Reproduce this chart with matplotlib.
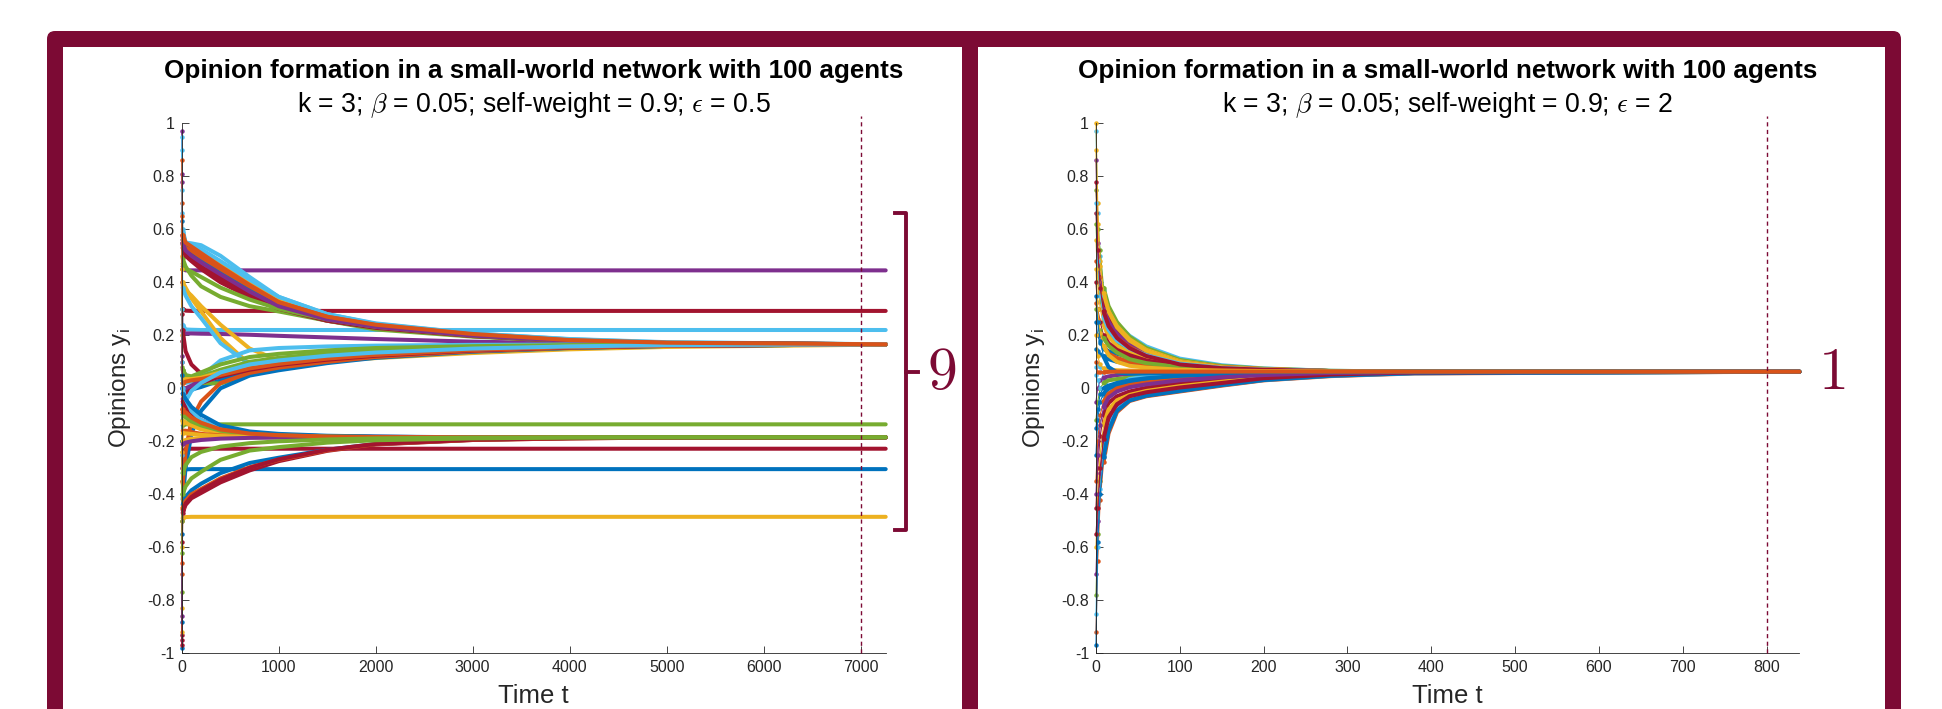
import matplotlib
matplotlib.use("Agg")
import matplotlib.pyplot as plt
from matplotlib.patches import FancyBboxPatch, Rectangle
from matplotlib.transforms import blended_transform_factory

plt.rcParams['font.family'] = ['Liberation Sans', 'DejaVu Sans']
plt.rcParams['mathtext.fontset'] = 'cm'
plt.rcParams['axes.unicode_minus'] = False

MAROON = '#7c0a34'
AXCOL = '#262626'
MATLAB = ['#0072BD', '#D95319', '#EDB120', '#7E2F8E', '#77AC30', '#4DBEEE', '#A2142F']
B, O, Y, P, G, L, R = range(7)

# ---------------- left panel (eps = 0.5) ----------------
t_left = [0, 10, 40, 100, 200, 400, 700, 1000, 1500, 2000, 3000, 4000, 5000, 7258]

# agents that settle almost at once
left_fixed_colors = [P, R, L, G, R, B, Y]
left_fixed = [
    [0.97, 0.46, 0.445, 0.445, 0.445, 0.445, 0.445, 0.445, 0.445, 0.445, 0.445, 0.445, 0.445, 0.445],
    [-0.93, 0.30, 0.293, 0.292, 0.292, 0.292, 0.292, 0.292, 0.292, 0.292, 0.292, 0.292, 0.292, 0.292],
    [0.66, 0.24, 0.222, 0.221, 0.220, 0.220, 0.220, 0.220, 0.220, 0.220, 0.220, 0.220, 0.220, 0.220],
    [-0.77, -0.14, -0.136, -0.136, -0.136, -0.136, -0.136, -0.136, -0.136, -0.136, -0.136, -0.136, -0.136, -0.136],
    [-0.95, -0.24, -0.229, -0.228, -0.228, -0.228, -0.228, -0.228, -0.228, -0.228, -0.228, -0.228, -0.228, -0.228],
    [-0.98, -0.32, -0.306, -0.305, -0.305, -0.305, -0.305, -0.305, -0.305, -0.305, -0.305, -0.305, -0.305, -0.305],
    [-0.83, -0.49, -0.486, -0.485, -0.485, -0.485, -0.485, -0.485, -0.485, -0.485, -0.485, -0.485, -0.485, -0.485],
]

# agents coming down from above into the 0.166 cluster
left_upper_colors = [P, L, Y, R, P, B, L, R, G, O, R, G, P, Y, Y, L, R]
left_upper = [
    [0.78, 0.21, 0.207, 0.207, 0.206, 0.205, 0.202, 0.198, 0.192, 0.186, 0.176, 0.170, 0.167, 0.166],
    [0.90, 0.60, 0.55, 0.547, 0.54, 0.50, 0.42, 0.345, 0.28, 0.243, 0.207, 0.186, 0.174, 0.166],
    [0.50, 0.56, 0.54, 0.53, 0.515, 0.47, 0.40, 0.335, 0.275, 0.240, 0.205, 0.183, 0.172, 0.166],
    [0.10, 0.56, 0.53, 0.51, 0.48, 0.42, 0.36, 0.31, 0.26, 0.232, 0.200, 0.180, 0.171, 0.166],
    [0.55, 0.57, 0.54, 0.52, 0.50, 0.45, 0.38, 0.32, 0.265, 0.236, 0.202, 0.181, 0.171, 0.166],
    [0.63, 0.56, 0.535, 0.52, 0.49, 0.44, 0.37, 0.315, 0.262, 0.233, 0.200, 0.180, 0.171, 0.166],
    [0.95, 0.59, 0.55, 0.54, 0.525, 0.48, 0.41, 0.345, 0.28, 0.245, 0.207, 0.185, 0.173, 0.166],
    [0.40, 0.54, 0.51, 0.49, 0.46, 0.41, 0.35, 0.30, 0.255, 0.228, 0.197, 0.178, 0.170, 0.166],
    [0.30, 0.49, 0.46, 0.425, 0.385, 0.345, 0.31, 0.29, 0.255, 0.222, 0.195, 0.178, 0.170, 0.166],
    [0.70, 0.55, 0.53, 0.52, 0.495, 0.45, 0.385, 0.325, 0.27, 0.238, 0.203, 0.181, 0.171, 0.166],
    [0.58, 0.53, 0.50, 0.48, 0.45, 0.40, 0.345, 0.30, 0.255, 0.228, 0.197, 0.178, 0.170, 0.166],
    [0.45, 0.47, 0.45, 0.44, 0.42, 0.38, 0.335, 0.30, 0.26, 0.232, 0.199, 0.179, 0.170, 0.166],
    [0.81, 0.55, 0.52, 0.50, 0.475, 0.43, 0.365, 0.31, 0.26, 0.232, 0.199, 0.179, 0.170, 0.166],
    [0.20, 0.40, 0.38, 0.34, 0.29, 0.19, 0.09, 0.088, 0.105, 0.120, 0.140, 0.153, 0.160, 0.166],
    [0.45, 0.39, 0.37, 0.35, 0.31, 0.24, 0.15, 0.105, 0.108, 0.122, 0.142, 0.154, 0.161, 0.166],
    [0.75, 0.38, 0.35, 0.31, 0.265, 0.17, 0.09, 0.090, 0.108, 0.123, 0.143, 0.155, 0.161, 0.166],
    [0.28, 0.22, 0.14, 0.09, 0.055, 0.04, 0.055, 0.082, 0.108, 0.124, 0.143, 0.155, 0.161, 0.166],
]

# agents coming up from below into the 0.166 cluster
left_lower_colors = [L, G, Y, B, G, B, O, R, P, G, Y, O, L, O]
left_lower = [
    [0.10, 0.03, 0.02, 0.025, 0.045, 0.105, 0.143, 0.152, 0.158, 0.161, 0.164, 0.165, 0.166, 0.166],
    [0.08, 0.07, 0.05, 0.045, 0.06, 0.09, 0.118, 0.130, 0.143, 0.152, 0.159, 0.163, 0.165, 0.166],
    [-0.12, 0.02, 0.03, 0.035, 0.04, 0.055, 0.072, 0.085, 0.102, 0.114, 0.133, 0.147, 0.156, 0.165],
    [0.0, -0.005, -0.01, -0.005, 0.005, 0.03, 0.065, 0.085, 0.105, 0.120, 0.140, 0.153, 0.160, 0.166],
    [0.05, 0.07, 0.05, 0.032, 0.02, 0.018, 0.05, 0.080, 0.105, 0.120, 0.140, 0.153, 0.160, 0.166],
    [-0.55, -0.42, -0.30, -0.17, -0.085, 0.0, 0.048, 0.068, 0.095, 0.115, 0.138, 0.152, 0.160, 0.166],
    [-0.50, -0.36, -0.24, -0.12, -0.05, 0.02, 0.058, 0.078, 0.100, 0.118, 0.140, 0.153, 0.160, 0.166],
    [0.18, -0.02, -0.02, 0.0, 0.02, 0.045, 0.07, 0.088, 0.108, 0.123, 0.143, 0.155, 0.161, 0.166],
    [-0.30, 0.0, 0.0, 0.01, 0.03, 0.06, 0.085, 0.098, 0.115, 0.127, 0.145, 0.156, 0.161, 0.166],
    [-0.20, 0.04, 0.045, 0.04, 0.045, 0.07, 0.10, 0.115, 0.132, 0.143, 0.155, 0.161, 0.164, 0.166],
    [0.02, 0.03, 0.035, 0.035, 0.04, 0.06, 0.085, 0.10, 0.118, 0.13, 0.147, 0.157, 0.162, 0.166],
    [-0.08, 0.02, 0.025, 0.03, 0.035, 0.05, 0.075, 0.092, 0.112, 0.126, 0.145, 0.156, 0.161, 0.166],
    [-0.25, -0.10, -0.05, -0.01, 0.02, 0.06, 0.09, 0.105, 0.123, 0.135, 0.150, 0.158, 0.163, 0.166],
    [0.86, 0.58, 0.55, 0.535, 0.51, 0.46, 0.39, 0.325, 0.27, 0.240, 0.205, 0.182, 0.172, 0.166],
]

# agents going into the -0.185 cluster
left_neg_colors = [P, B, R, O, Y, L, Y, O, Y, B, G, Y, P, O, R, B, O, R, G, G]
left_neg = [
    [0.12, -0.04, -0.06, -0.09, -0.12, -0.15, -0.168, -0.175, -0.181, -0.183, -0.185, -0.185, -0.185, -0.185],
    [-0.20, -0.06, -0.08, -0.11, -0.135, -0.16, -0.173, -0.178, -0.182, -0.184, -0.185, -0.185, -0.185, -0.185],
    [0.22, -0.05, -0.07, -0.10, -0.125, -0.152, -0.17, -0.176, -0.181, -0.183, -0.185, -0.185, -0.185, -0.185],
    [-0.35, -0.08, -0.10, -0.125, -0.145, -0.165, -0.176, -0.18, -0.183, -0.184, -0.185, -0.185, -0.185, -0.185],
    [-0.60, -0.125, -0.128, -0.135, -0.148, -0.163, -0.174, -0.179, -0.182, -0.184, -0.185, -0.185, -0.185, -0.185],
    [0.30, 0.0, -0.04, -0.085, -0.12, -0.152, -0.17, -0.177, -0.182, -0.184, -0.185, -0.185, -0.185, -0.185],
    [-0.45, -0.13, -0.13, -0.14, -0.155, -0.168, -0.177, -0.18, -0.183, -0.185, -0.185, -0.185, -0.185, -0.185],
    [-0.70, -0.16, -0.16, -0.165, -0.172, -0.178, -0.182, -0.184, -0.185, -0.185, -0.185, -0.185, -0.185, -0.185],
    [-0.24, -0.20, -0.195, -0.19, -0.188, -0.186, -0.185, -0.185, -0.185, -0.185, -0.185, -0.185, -0.185, -0.185],
    [0.05, -0.02, -0.04, -0.07, -0.10, -0.14, -0.163, -0.172, -0.179, -0.182, -0.185, -0.185, -0.185, -0.185],
    [-0.50, -0.10, -0.11, -0.125, -0.14, -0.16, -0.173, -0.178, -0.182, -0.184, -0.185, -0.185, -0.185, -0.185],
    [-0.92, -0.17, -0.17, -0.172, -0.176, -0.18, -0.183, -0.184, -0.185, -0.185, -0.185, -0.185, -0.185, -0.185],
    [-0.86, -0.21, -0.205, -0.20, -0.195, -0.19, -0.187, -0.186, -0.185, -0.185, -0.185, -0.185, -0.185, -0.185],
    [0.65, -0.09, -0.09, -0.11, -0.13, -0.155, -0.171, -0.177, -0.182, -0.184, -0.185, -0.185, -0.185, -0.185],
    [-0.58, -0.47, -0.44, -0.415, -0.395, -0.355, -0.31, -0.275, -0.236, -0.212, -0.195, -0.189, -0.186, -0.185],
    [-0.88, -0.44, -0.41, -0.385, -0.36, -0.32, -0.282, -0.262, -0.232, -0.21, -0.194, -0.188, -0.186, -0.185],
    [-0.66, -0.45, -0.425, -0.40, -0.38, -0.34, -0.298, -0.27, -0.234, -0.211, -0.195, -0.189, -0.186, -0.185],
    [-0.97, -0.46, -0.435, -0.41, -0.385, -0.345, -0.30, -0.268, -0.232, -0.21, -0.194, -0.188, -0.186, -0.185],
    [-0.40, -0.32, -0.29, -0.26, -0.24, -0.22, -0.207, -0.20, -0.193, -0.189, -0.186, -0.185, -0.185, -0.185],
    [-0.62, -0.40, -0.37, -0.34, -0.315, -0.27, -0.235, -0.222, -0.205, -0.196, -0.189, -0.186, -0.185, -0.185],
]

# ---------------- right panel (eps = 2) ----------------
t_right = [0, 2, 5, 9, 15, 25, 40, 60, 100, 150, 200, 280, 380, 839]

right_colors = [L, G, Y, R, P, O, B, G, Y, L, R, B, O, Y, P, G, L, B,
                O, R, Y, G, O, P, L, B, R, Y, G, L, B, R, P, Y, B, O]
right_paths = [
    [0.97, 0.66, 0.50, 0.37, 0.30, 0.245, 0.198, 0.158, 0.112, 0.087, 0.075, 0.066, 0.063, 0.0627],
    [0.75, 0.60, 0.52, 0.38, 0.31, 0.25, 0.195, 0.152, 0.107, 0.084, 0.074, 0.066, 0.063, 0.0627],
    [1.0, 0.70, 0.46, 0.35, 0.29, 0.235, 0.185, 0.145, 0.102, 0.081, 0.073, 0.065, 0.063, 0.0627],
    [0.66, 0.50, 0.42, 0.33, 0.27, 0.22, 0.175, 0.140, 0.099, 0.080, 0.072, 0.065, 0.063, 0.0627],
    [0.86, 0.55, 0.40, 0.30, 0.25, 0.205, 0.165, 0.132, 0.095, 0.078, 0.071, 0.065, 0.063, 0.0627],
    [0.48, 0.42, 0.36, 0.28, 0.23, 0.19, 0.155, 0.125, 0.092, 0.077, 0.070, 0.065, 0.063, 0.0627],
    [0.25, 0.20, 0.17, 0.15, 0.14, 0.13, 0.118, 0.105, 0.088, 0.076, 0.070, 0.065, 0.063, 0.0627],
    [0.62, 0.45, 0.33, 0.26, 0.21, 0.175, 0.145, 0.120, 0.090, 0.076, 0.070, 0.065, 0.063, 0.0627],
    [0.56, 0.40, 0.30, 0.24, 0.195, 0.16, 0.135, 0.112, 0.086, 0.074, 0.069, 0.064, 0.063, 0.0627],
    [0.08, 0.09, 0.08, 0.04, -0.01, 0.02, 0.05, 0.065, 0.070, 0.068, 0.066, 0.064, 0.063, 0.0627],
    [0.40, 0.30, 0.25, 0.20, 0.17, 0.145, 0.125, 0.105, 0.084, 0.073, 0.068, 0.064, 0.063, 0.0627],
    [0.15, 0.14, 0.13, 0.12, 0.11, 0.10, 0.092, 0.085, 0.076, 0.070, 0.067, 0.064, 0.063, 0.0627],
    [0.32, 0.26, 0.20, 0.16, 0.13, 0.115, 0.10, 0.090, 0.078, 0.071, 0.067, 0.064, 0.063, 0.0627],
    [0.20, 0.12, 0.09, 0.075, 0.07, 0.068, 0.067, 0.066, 0.065, 0.064, 0.064, 0.063, 0.063, 0.0627],
    [-0.05, 0.0, 0.03, 0.04, 0.045, 0.05, 0.054, 0.057, 0.059, 0.061, 0.062, 0.0625, 0.0627, 0.0627],
    [-0.12, -0.05, 0.0, 0.02, 0.03, 0.035, 0.04, 0.046, 0.052, 0.056, 0.059, 0.061, 0.062, 0.0627],
    [0.05, 0.03, 0.0, -0.03, -0.02, 0.01, 0.035, 0.045, 0.053, 0.057, 0.059, 0.061, 0.062, 0.0627],
    [-0.25, -0.12, -0.05, -0.02, 0.0, 0.01, 0.022, 0.032, 0.043, 0.051, 0.056, 0.060, 0.062, 0.0627],
    [-0.35, -0.20, -0.10, -0.05, -0.02, 0.0, 0.012, 0.022, 0.035, 0.046, 0.053, 0.059, 0.062, 0.0627],
    [-0.45, -0.30, -0.18, -0.10, -0.055, -0.03, -0.012, 0.002, 0.020, 0.035, 0.046, 0.056, 0.061, 0.0627],
    [-0.60, -0.40, -0.25, -0.14, -0.08, -0.045, -0.025, -0.010, 0.008, 0.025, 0.040, 0.053, 0.060, 0.0627],
    [-0.78, -0.55, -0.35, -0.22, -0.13, -0.075, -0.04, -0.022, -0.005, 0.015, 0.034, 0.050, 0.058, 0.0627],
    [-0.92, -0.65, -0.42, -0.28, -0.17, -0.09, -0.048, -0.030, -0.012, 0.010, 0.030, 0.046, 0.056, 0.0627],
    [-0.70, -0.50, -0.32, -0.20, -0.12, -0.068, -0.036, -0.020, -0.002, 0.018, 0.036, 0.051, 0.059, 0.0627],
    [-0.85, -0.60, -0.38, -0.25, -0.15, -0.082, -0.044, -0.026, -0.008, 0.013, 0.032, 0.048, 0.057, 0.0627],
    [-0.97, -0.58, -0.40, -0.26, -0.16, -0.085, -0.046, -0.028, -0.010, 0.012, 0.031, 0.047, 0.057, 0.0627],
    [-0.55, -0.45, -0.30, -0.19, -0.11, -0.06, -0.03, -0.015, 0.003, 0.020, 0.038, 0.052, 0.060, 0.0627],
    [0.90, 0.62, 0.48, 0.36, 0.29, 0.23, 0.18, 0.142, 0.100, 0.080, 0.072, 0.065, 0.063, 0.0627],
    [0.30, 0.25, 0.22, 0.19, 0.16, 0.135, 0.11, 0.095, 0.080, 0.072, 0.068, 0.064, 0.063, 0.0627],
    [0.70, 0.48, 0.35, 0.27, 0.22, 0.18, 0.15, 0.125, 0.093, 0.077, 0.070, 0.065, 0.063, 0.0627],
    [-0.15, -0.08, -0.02, 0.0, 0.01, 0.02, 0.03, 0.038, 0.047, 0.053, 0.057, 0.060, 0.062, 0.0627],
    [0.78, 0.52, 0.38, 0.29, 0.235, 0.19, 0.152, 0.122, 0.090, 0.076, 0.070, 0.065, 0.063, 0.0627],
    [-0.40, -0.25, -0.14, -0.07, -0.035, -0.012, 0.004, 0.015, 0.030, 0.042, 0.050, 0.058, 0.061, 0.0627],
    [0.45, 0.30, 0.21, 0.16, 0.125, 0.10, 0.085, 0.078, 0.070, 0.067, 0.065, 0.064, 0.063, 0.0627],
    [0.35, 0.25, 0.18, 0.12, 0.08, 0.06, 0.055, 0.056, 0.058, 0.060, 0.061, 0.062, 0.0627, 0.0627],
    [0.10, 0.06, 0.06, 0.06, 0.062, 0.063, 0.063, 0.063, 0.063, 0.063, 0.063, 0.0627, 0.0627, 0.0627],
]

titles = ["Opinion formation in a small-world network with 100 agents"] * 2
subtitles = [r"k = 3; $\beta$ = 0.05; self-weight = 0.9; $\epsilon$ = 0.5",
             r"k = 3; $\beta$ = 0.05; self-weight = 0.9; $\epsilon$ = 2"]
x_ticks = [list(range(0, 7001, 1000)), list(range(0, 801, 100))]
x_max = [7258, 839]
stop_time = [7000, 800]
y_ticks = [-1, -0.8, -0.6, -0.4, -0.2, 0, 0.2, 0.4, 0.6, 0.8, 1]
y_tick_labels = ['-1', '-0.8', '-0.6', '-0.4', '-0.2', '0', '0.2', '0.4', '0.6', '0.8', '1']
cluster_count = ['9', '1']
bracket_y = (0.663, 0.063, -0.535)
count_y = 0.055

# ---------------- figure ----------------
fig = plt.figure(figsize=(19.42, 7.09), dpi=100)
W, H = 1942, 709

def px_in(x, y):
    return x / 100, (H - y) / 100

# maroon frame: one outer rounded box, two white inner panes
x0, y0 = px_in(47, 760)
x1, y1 = px_in(1901, 31)
frame = FancyBboxPatch((x0, y0), x1 - x0, y1 - y0,
                       boxstyle="round,pad=0,rounding_size=0.08",
                       transform=fig.dpi_scale_trans, fc=MAROON, ec='none', zorder=-10)
fig.add_artist(frame)
for a, b in [(63.3, 962.3), (978.3, 1885)]:
    xa, ya = px_in(a, 760)
    xb, yb = px_in(b, 46.7)
    fig.add_artist(Rectangle((xa, ya), xb - xa, yb - ya, transform=fig.dpi_scale_trans,
                             fc='white', ec='none', zorder=-9))

ax_l = fig.add_axes([181.7 / W, 1 - 653.3 / H, 704 / W, 530 / H])
ax_r = fig.add_axes([1096 / W, 1 - 653.3 / H, 703.3 / W, 530 / H])

def draw(ax, t, paths, colors, n_fast):
    # fast first steps: thin line with separate dots; slow part: dots merge into a thick band
    for ys, c in zip(paths, colors):
        col = MATLAB[c]
        ax.plot(t[:n_fast + 1], ys[:n_fast + 1], color=col, lw=0.8, marker='o', ms=3.2,
                mew=0, clip_on=False, zorder=2)
        ax.plot(t[n_fast:], ys[n_fast:], color=col, lw=2.9, solid_joinstyle='round',
                solid_capstyle='round', clip_on=False, zorder=2)

draw(ax_l, t_left, left_fixed, left_fixed_colors, 1)
draw(ax_l, t_left, left_upper, left_upper_colors, 1)
draw(ax_l, t_left, left_lower, left_lower_colors, 1)
draw(ax_l, t_left, left_neg, left_neg_colors, 1)
draw(ax_r, t_right, right_paths, right_colors, 3)

for i, ax in enumerate([ax_l, ax_r]):
    ax.set_facecolor('none')
    ax.set_xlim(0, x_max[i])
    ax.set_ylim(-1, 1)
    ax.set_xticks(x_ticks[i])
    ax.set_xticklabels([str(v) for v in x_ticks[i]])
    ax.set_yticks(y_ticks)
    ax.set_yticklabels(y_tick_labels)
    for s in ['top', 'right']:
        ax.spines[s].set_visible(False)
    for s in ['left', 'bottom']:
        ax.spines[s].set_color(AXCOL)
        ax.spines[s].set_linewidth(0.6)
    ax.tick_params(direction='in', length=5, width=0.6, colors=AXCOL,
                   labelsize=11.5, pad=5)
    ax.set_xlabel('Time t', fontsize=18.5, color=AXCOL)
    ax.xaxis.set_label_coords(0.5, -0.0806)
    ax.xaxis.label.set_va('center')
    ax.set_ylabel(r'Opinions y$_\mathregular{i}$', fontsize=17.5, color=AXCOL)
    ax.yaxis.set_label_coords(-0.0876, 0.5)
    ax.yaxis.label.set_va('center')

    ax.plot([stop_time[i], stop_time[i]], [-1, 1.029], color=MAROON, lw=1.0,
            ls=(0, (3, 2.5)), clip_on=False, zorder=5)

    cx = (ax.get_position().x0 + ax.get_position().x1) / 2
    fig.text(cx, 1 - 70.6 / H, titles[i], ha='center', va='center',
             fontsize=18.7, fontweight='bold', color='black')
    fig.text(cx, 1 - 105.5 / H, subtitles[i], ha='center', va='center',
             fontsize=19.2, color='black')

# bracket + cluster count on the left panel
tr_l = blended_transform_factory(ax_l.transAxes, ax_l.transData)
def axfrac(px, ax_x0=181.7, ax_w=704.0):
    return (px - ax_x0) / ax_w
top, mid, bot = bracket_y
ax_l.plot([axfrac(895), axfrac(906), axfrac(906), axfrac(895)], [top, top, bot, bot],
          color=MAROON, lw=2.8, solid_joinstyle='round', transform=tr_l, clip_on=False)
ax_l.plot([axfrac(906), axfrac(918)], [mid, mid], color=MAROON, lw=2.8,
          transform=tr_l, clip_on=False)
ax_l.text(axfrac(941.7), count_y, r'$\mathrm{' + cluster_count[0] + '}$', transform=tr_l,
          ha='center', va='center', fontsize=43, color=MAROON)

tr_r = blended_transform_factory(ax_r.transAxes, ax_r.transData)
ax_r.text((1831.7 - 1096) / 703.3, count_y, r'$\mathrm{' + cluster_count[1] + '}$',
          transform=tr_r, ha='center', va='center', fontsize=43, color=MAROON)

fig.savefig('out.png', dpi=100)
